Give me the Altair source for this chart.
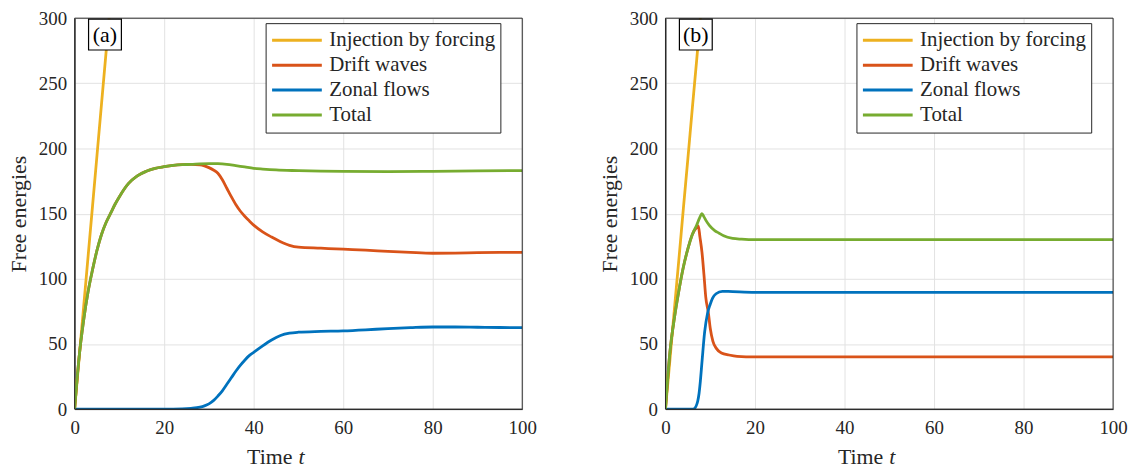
import altair as alt
import pandas as pd

FONT = "Liberation Serif, DejaVu Serif, serif"
FS = 19
TFS = 22
SERIES = ["Injection by forcing", "Drift waves", "Zonal flows", "Total"]
COLORS = ["#EDB120", "#D95319", "#0072BD", "#77AC30"]
X_TICKS = [0, 20, 40, 60, 80, 100]
Y_TICKS = [0, 50, 100, 150, 200, 250, 300]

# ---------------- panel (a) ----------------
a_inj_t = [0, 1, 2, 3, 4, 5, 6, 7, 8, 9, 10]
a_inj_v = [0, 39, 78, 117, 156, 195, 234, 273, 312, 351, 390]

a_drift_t = [0, 1, 2, 3, 4, 5, 6, 7, 8, 9, 10, 12, 14, 16, 18, 20, 22, 24, 26, 28, 29, 30,
             31, 32, 33, 34, 35, 36, 37, 38, 39, 40, 42, 44, 46, 48, 50, 55, 60, 65, 70,
             75, 80, 85, 90, 95, 100]
a_drift_v = [0, 40, 68, 90, 107, 122, 134, 143, 150, 157, 163, 173, 179, 182.5, 184.8, 186,
             187, 187.6, 187.8, 187.5, 186.7, 185.3, 183.5, 181, 176, 169.5, 163, 157, 152,
             148, 144.5, 141.2, 136, 132, 128.5, 125.7, 124.3, 123.5, 122.7, 122, 121,
             120.2, 119.6, 119.7, 120, 120.2, 120.3]

a_zonal_t = [0, 10, 20, 24, 26, 28, 29, 30, 31, 32, 33, 34, 35, 36, 37, 38, 39, 40, 42, 44,
             46, 48, 50, 55, 60, 65, 70, 75, 80, 85, 90, 95, 100]
a_zonal_v = [0, 0, 0, 0.2, 0.6, 1.5, 2.5, 4, 6.5, 10, 14, 19, 24, 29, 33.5, 37.5, 41, 43.5,
             48.5, 53, 56.5, 58.3, 59, 59.6, 60, 60.8, 61.8, 62.5, 63, 63, 62.8, 62.6, 62.5]

a_total_t = [0, 1, 2, 3, 4, 5, 6, 7, 8, 9, 10, 12, 14, 16, 18, 20, 22, 24, 26, 28, 30, 32,
             34, 36, 38, 40, 42, 45, 50, 55, 60, 70, 80, 90, 100]
a_total_v = [0, 40, 68, 90, 107, 122, 134, 143, 150, 157, 163, 173, 179, 182.5, 184.8, 186,
             187, 187.6, 187.8, 188.2, 188.4, 188.3, 187.8, 186.8, 185.8, 184.8, 184.2,
             183.5, 183, 182.6, 182.4, 182.3, 182.5, 182.8, 183]

# ---------------- panel (b) ----------------
b_inj_t = [0, 1, 2, 3, 4, 5, 6, 7, 8, 9, 10]
b_inj_v = [0, 38, 77, 115, 154, 192, 231, 269, 308, 346, 385]

b_drift_t = [0, 1, 2, 3, 4, 5, 6, 7, 7.33, 7.7, 8.15, 8.6, 9, 9.6, 10, 10.6, 11.4, 12.5,
             14.2, 16, 20, 30, 50, 70, 100]
b_drift_v = [0, 44, 70, 91, 109, 123, 134, 139.5, 140.5, 132, 120.5, 103, 86, 73.5, 62, 52,
             46.4, 43, 41.5, 40.5, 40, 40, 40, 40, 40]

b_zonal_t = [0, 3, 6, 6.4, 6.8, 7.2, 7.5, 7.8, 8.2, 8.74, 9.4, 10, 10.5, 11.3, 12.7, 14, 20,
             30, 50, 70, 100]
b_zonal_v = [0, 0, 0, 0.3, 2, 6, 12, 21.7, 38, 58.8, 73.6, 80.5, 85, 88.5, 90.4, 90.3, 89.6,
             89.5, 89.5, 89.5, 89.5]

b_total_t = [0, 1, 2, 3, 4, 5, 6, 7, 7.6, 8.15, 8.6, 9, 9.8, 11, 12, 13, 15, 17, 20, 30, 50,
             70, 100]
b_total_v = [0, 44, 70, 91, 109, 123, 134, 141.5, 146.5, 150, 147.5, 145, 141, 137, 135,
             133, 131, 130.4, 130, 130, 130, 130, 130]


def frame(parts):
    rows = []
    for name, ts, vs in parts:
        for t, v in zip(ts, vs):
            rows.append({"series": name, "t": t, "E": v})
    return pd.DataFrame(rows)


df_a = frame([(SERIES[0], a_inj_t, a_inj_v), (SERIES[1], a_drift_t, a_drift_v),
              (SERIES[2], a_zonal_t, a_zonal_v), (SERIES[3], a_total_t, a_total_v)])
df_b = frame([(SERIES[0], b_inj_t, b_inj_v), (SERIES[1], b_drift_t, b_drift_v),
              (SERIES[2], b_zonal_t, b_zonal_v), (SERIES[3], b_total_t, b_total_v)])

W, H = 450, 393


def panel(df, label):
    x = alt.X("t:Q", scale=alt.Scale(domain=[0, 100], nice=False),
              axis=alt.Axis(values=X_TICKS, title=None, ticks=False, labelPadding=10,
                            labelFlush=False, labelFont=FONT, labelFontSize=FS,
                            labelColor="#262626", domainColor="#262626",
                            gridColor="#e2e2e2"))
    y = alt.Y("E:Q", scale=alt.Scale(domain=[0, 300], nice=False),
              axis=alt.Axis(values=Y_TICKS, title="Free energies", ticks=False,
                            labelPadding=8, labelFlush=False, labelFont=FONT,
                            labelFontSize=FS, labelColor="#262626",
                            domainColor="#262626", gridColor="#e2e2e2", titleFont=FONT,
                            titleFontSize=TFS, titleFontWeight="normal",
                            titleColor="#262626", titlePadding=6, minExtent=38,
                            maxExtent=38))
    color = alt.Color("series:N", scale=alt.Scale(domain=SERIES, range=COLORS),
                      legend=alt.Legend(title=None, orient="none", legendX=192, legendY=5,
                                        symbolType="stroke", symbolSize=2500,
                                        symbolStrokeWidth=3, clipHeight=24.5,
                                        rowPadding=0, labelOffset=6, padding=5,
                                        labelFont=FONT, labelFontSize=21,
                                        labelColor="#262626", strokeColor="#262626",
                                        fillColor="white", labelLimit=400))
    layers = []
    for s in SERIES:
        layers.append(
            alt.Chart(df).transform_filter(alt.datum.series == s)
            .mark_line(clip=True, strokeWidth=2.8, interpolate="monotone")
            .encode(x=x, y=y, color=color)
        )
    one = pd.DataFrame({"lab": [label]})
    border = alt.Chart(one).mark_rect(fillOpacity=0, stroke="#262626", strokeWidth=1).encode(
        x=alt.value(0), x2=alt.value(W), y=alt.value(0), y2=alt.value(H))
    box = alt.Chart(one).mark_rect(fill="white", stroke="black", strokeWidth=1.2).encode(
        x=alt.value(14), x2=alt.value(47), y=alt.value(1), y2=alt.value(32))
    txt = alt.Chart(one).mark_text(font=FONT, fontSize=TFS, color="black").encode(
        x=alt.value(30.5), y=alt.value(16.5), text="lab:N")
    xt1 = alt.Chart(one).mark_text(font=FONT, fontSize=TFS, color="#262626", align="right",
                                   baseline="middle").encode(
        x=alt.value(219), y=alt.value(H + 48), text=alt.value("Time"))
    xt2 = alt.Chart(one).mark_text(font=FONT, fontSize=TFS, color="#262626", align="left",
                                   baseline="middle", fontStyle="italic").encode(
        x=alt.value(225), y=alt.value(H + 48), text=alt.value("t"))
    return alt.layer(*layers, border, box, txt, xt1, xt2).properties(width=W, height=H)


chart = alt.hconcat(panel(df_a, "(a)"), panel(df_b, "(b)"), spacing=62).properties(
    padding={"left": 0, "top": 0, "right": 0, "bottom": 0}
).configure_view(stroke=None).resolve_legend(color="independent")

chart.save("out.html", embed_options={"renderer": "svg", "actions": False})
